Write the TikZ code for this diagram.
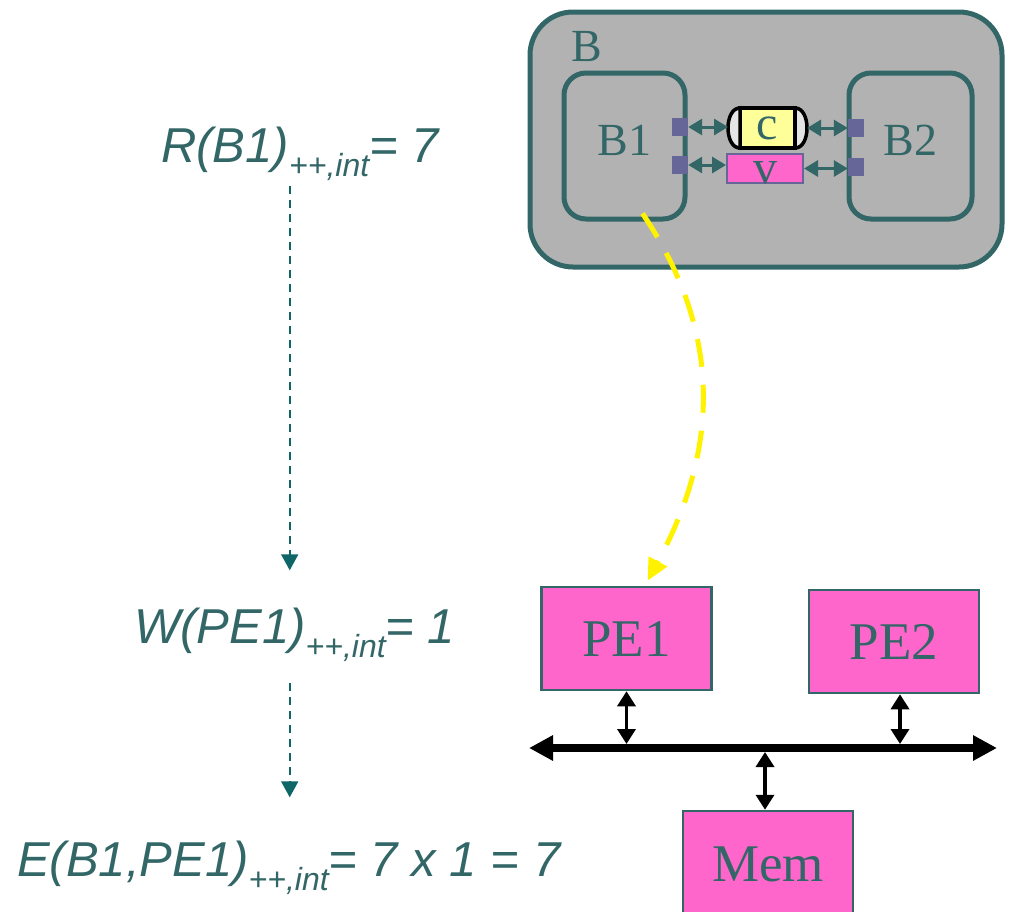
\documentclass[tikz,border=0pt]{standalone}
\usepackage{fontspec}
\usetikzlibrary{arrows.meta,positioning,calc}
\newfontfamily\formfont{Liberation Sans}
\newfontfamily\boxfont{Liberation Serif}
\definecolor{slate}{HTML}{336666}
\definecolor{flowc}{HTML}{0E6666}
\definecolor{pemag}{HTML}{FF66CC}
\definecolor{portc}{HTML}{666699}
\definecolor{chany}{HTML}{FFFF99}
\definecolor{bgray}{HTML}{B2B2B2}
% lowered index of the cost terms
\newcommand{\ppint}{\raisebox{-14pt}{\fontsize{32}{32}\selectfont ++,int}}

\begin{document}
\begin{tikzpicture}[x=1pt,y=-1pt,
  formula/.style={font=\formfont\itshape\fontsize{49}{49}\selectfont,text=slate,inner sep=0pt,anchor=base west},
  lbl/.style={font=\boxfont\fontsize{#1}{#1}\selectfont,text=slate,inner sep=0pt},
  lbl/.default=46,
  blk/.style={draw=slate,line width=5pt,fill=bgray,rounded corners=#1,inner sep=0pt},
  port/.style={fill=portc,minimum width=16pt,minimum height=18pt,inner sep=0pt},
  pebox/.style={draw=slate,line width=2.5pt,fill=pemag,minimum width=170pt,minimum height=103pt,font=\boxfont\fontsize{53}{53}\selectfont,text=slate},
  link/.style={{Triangle[length=14pt,width=16pt]}-{Triangle[length=14pt,width=16pt]},line width=3pt,draw=slate},
  conn/.style={{Triangle[length=15pt,width=18pt]}-{Triangle[length=15pt,width=18pt]},line width=3.5pt},
  flow/.style={-{Triangle[length=16pt,width=17pt]},line width=2pt,draw=flowc,dash pattern=on 8pt off 6pt},
  mapto/.style={-{Triangle[length=22pt,width=20pt]},line width=5pt,draw=yellow,dash pattern=on 28pt off 18pt}]
  \useasboundingbox (0,0) rectangle (1011,911);

  % cost terms on the left
  \node[formula] (rb) at (161,162) {R(B1)\ppint= 7};
  \node[formula] (wpe) at (134,643) {W(PE1)\ppint= 1};
  \node[formula] (ebp) at (17,876) {E(B1,PE1)\ppint= 7 x 1 = 7};
  \draw[flow] ($(rb.south -| wpe)+(-5,6)$) -- ($(wpe.north)+(-5,-37)$);
  \draw[flow] ($(wpe.south)+(-5,22)$) -- ($(wpe.south |- ebp.north)+(-5,-43)$);

  % behaviour B with its two blocks
  \node[blk=43pt,minimum width=472pt,minimum height=255pt] (b) at (766,139.5) {};
  \node[lbl] (blbl) at (587,47) {B};
  \node[blk=22pt,minimum width=121pt,minimum height=146pt,label={[lbl,yshift=6pt]center:B1}] (b1) at (624.5,146) {};
  \node[blk=22pt,minimum width=123pt,minimum height=146pt,label={[lbl,yshift=6pt]center:B2}] (b2) at (910.5,146) {};
  \node[port] (p1) at (680,127) {};
  \node[port] (p2) at (680,165) {};
  \node[port] (p3) at (856,128) {};
  \node[port] (p4) at (856,167) {};

  % channel c and variable v
  \node[draw=black,line width=3.5pt,fill=chany,minimum width=55pt,minimum height=40pt,outer sep=0pt,lbl=48] (c) at (767.5,128) {c};
  \draw[line width=3.5pt,fill=gray!20] (c.north west) .. controls +(-16,0) and +(-16,0) .. (c.south west) -- cycle;
  \draw[line width=3.5pt,fill=gray!20] (c.north east) .. controls +(16,0) and +(16,0) .. (c.south east) -- cycle;
  \node[draw=portc,line width=2pt,fill=pemag,minimum width=76pt,minimum height=29pt,inner sep=0pt,label={[lbl=48,yshift=-4pt]center:v}] (v) at (765,168.5) {};
  \coordinate (cl) at ($(c.west)+(-12,0)$);
  \coordinate (cr) at ($(c.east)+(12,0)$);
  \draw[link] (p1) -- (p1 -| cl);
  \draw[link] (cr) -- (cr -| p3.west);
  \draw[link] (p2) -- (p2 -| v.west);
  \draw[link] (v.east) -- (v.east -| p4.west);

  % platform
  \node[pebox] (pe1) at (626.5,638.5) {PE1};
  \node[pebox] (pe2) at (894,641.5) {PE2};
  \node[pebox,minimum height=106pt] (mem) at (768,864) {Mem};
  \coordinate (busw) at (529,748);
  \coordinate (buse) at (997,748);
  \draw[line width=8pt,{Triangle[length=24pt,width=24pt]}-{Triangle[length=24pt,width=24pt]}] (busw) -- (buse);
  \draw[conn,shorten >=4pt] (pe1) -- (pe1 |- busw);
  \draw[conn,shorten >=4pt] ([xshift=6pt]pe2.south) -- ([xshift=6pt]pe2.south |- busw);
  \draw[conn,shorten <=4pt] ([xshift=-3pt]mem.north |- busw) -- ([xshift=-3pt]mem.north);

  % mapping of B1 onto PE1
  \draw[mapto] ($(b1.south)+(18,-8)$) .. controls (721,330) and (721,446) .. ($(pe1.north)+(21,-5)$);
\end{tikzpicture}
\end{document}
